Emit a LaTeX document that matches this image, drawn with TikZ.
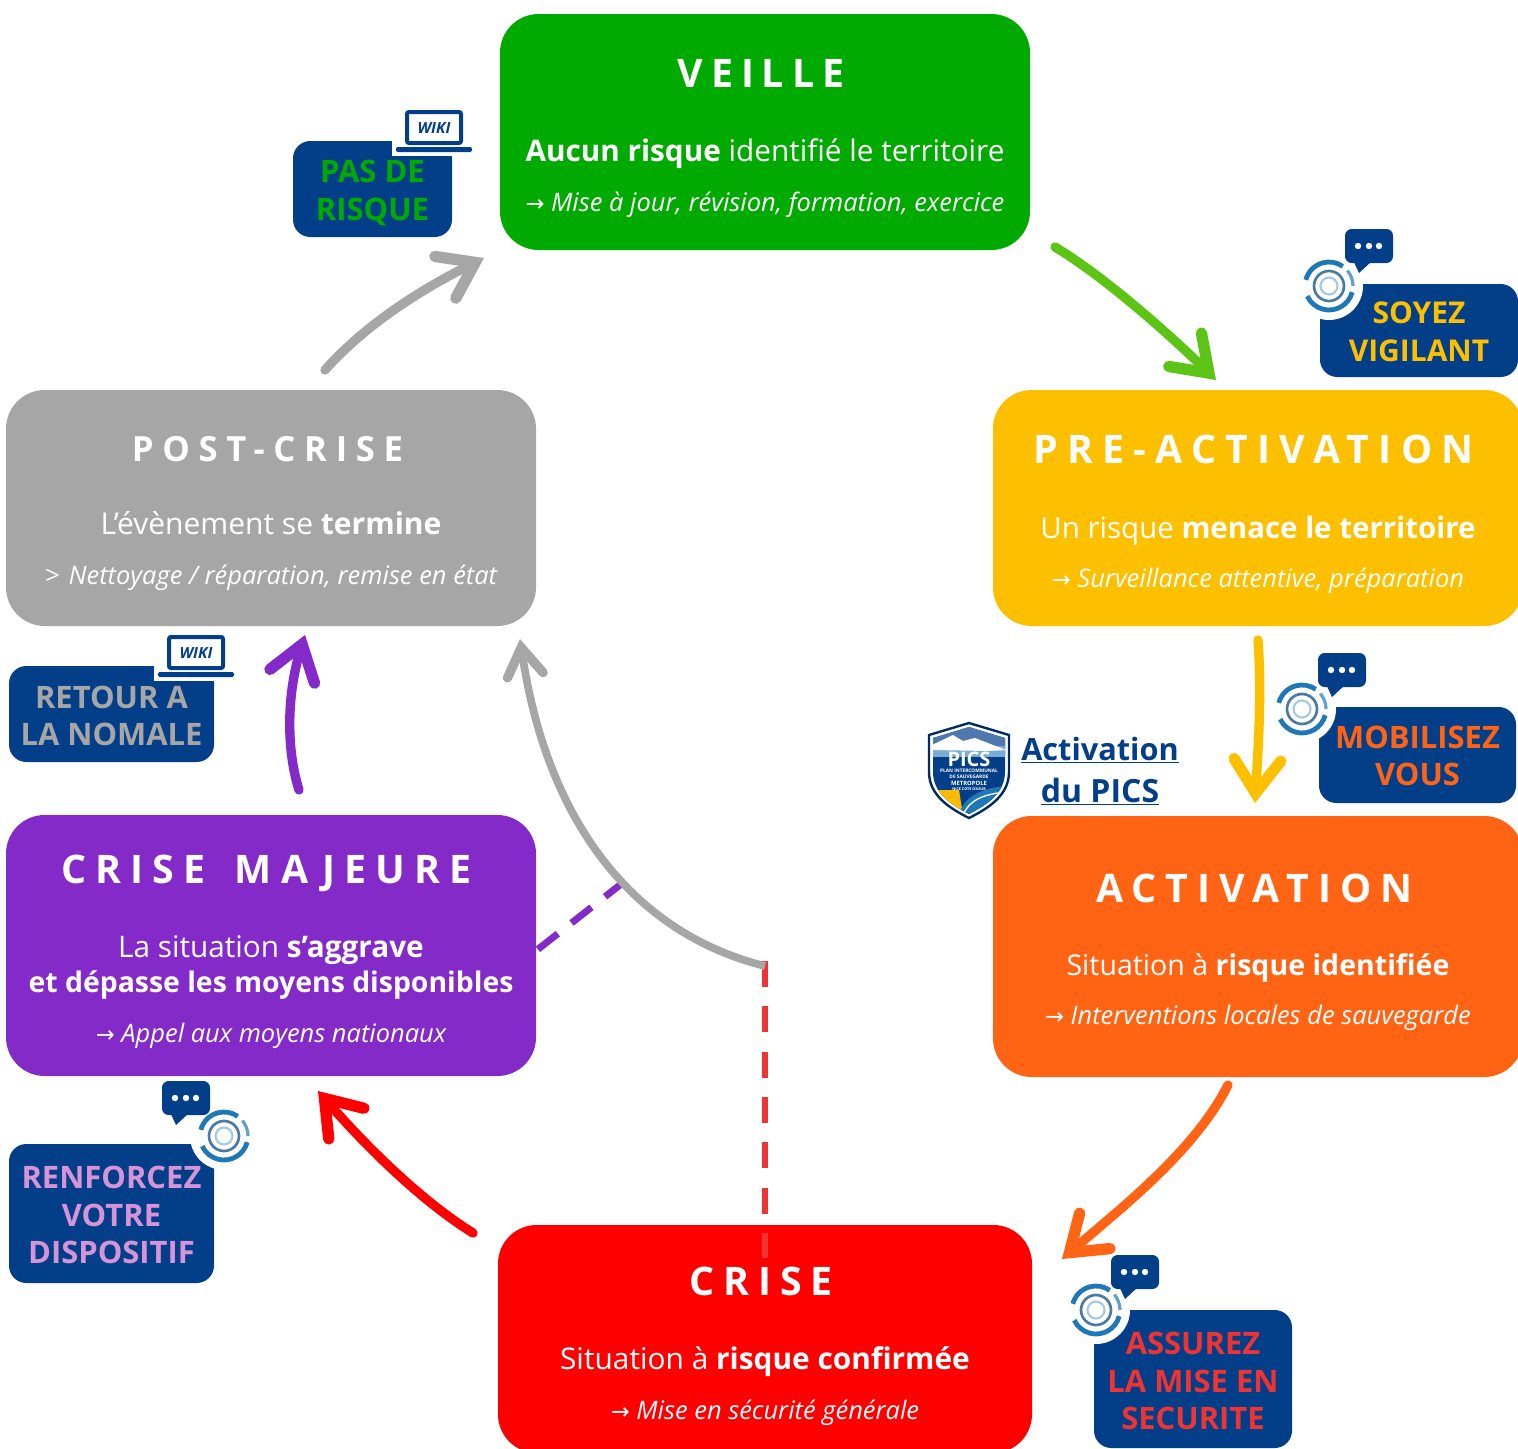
\documentclass[tikz,border=0pt]{standalone}
\usepackage{fontspec}
\usetikzlibrary{arrows.meta}
\setmainfont{Open Sans}
\newfontfamily\arrowfont{DejaVu Sans}
\newcommand{\darr}{{\arrowfont\fontsize{17}{17}\selectfont →}}
\definecolor{navy}{HTML}{033F88}
\definecolor{cgreen}{HTML}{00AA00}
\definecolor{cgrey}{HTML}{A6A6A6}
\definecolor{cyellow}{HTML}{FCC000}
\definecolor{corange}{HTML}{FF6414}
\definecolor{cpurple}{HTML}{832AC8}
\definecolor{cred}{HTML}{FF0000}
\definecolor{clime}{HTML}{5CC414}
\definecolor{cdash}{HTML}{EE3333}
\definecolor{cpink}{HTML}{D793D7}
\definecolor{cswirl}{HTML}{1E78B8}
\tikzset{
  phase/.style={rectangle,rounded corners=29pt,inner sep=0pt,text=white},
  tag/.style={rectangle,rounded corners=13pt,inner sep=0pt,fill=navy},
  tagtext/.style={inner sep=0pt,align=center,font=\bfseries\fontsize{#1}{28.2}\selectfont},
  tagtext/.default=23.2,
  ttl/.style={anchor=base,inner sep=0pt,text=white,font=\bfseries\fontsize{#1}{#1}\selectfont},
  body/.style={anchor=base,inner sep=0pt,text=white,font=\fontsize{#1}{27}\selectfont},
  body/.default=22.3,
  note/.style={anchor=base,inner sep=0pt,text=white,font=\itshape\fontsize{19.1}{22}\selectfont},
  flow/.style={line width=7pt,line cap=round,-{Straight Barb[length=25pt,width=35pt,line width=8.5pt,line cap=round,line join=miter]}},
  thinflow/.style={line width=5.8pt,-{Straight Barb[length=21pt,width=27pt,line width=7pt,line cap=round,line join=miter]}},
  laptop/.pic={
    \fill[white] (-42,-22) rectangle (42,26);
    \draw[navy,line width=3pt,rounded corners=1.5pt,fill=white] (-27,-18) rectangle (27,13);
    \fill[navy,rounded corners=1.5pt] (-38,17) rectangle (38,22);
    \node[inner sep=0pt,text=navy,font=\bfseries\itshape\fontsize{11.5}{11.5}\selectfont] (-wiki) at (0,-2) {WIKI};
  },
  chat/.pic={
    \fill[navy,rounded corners=5pt] (-24,-17) rectangle (24,17);
    \fill[navy] (-16,14) -- (-10,27) -- (3,15) -- cycle;
    \fill[white] (-11,0) circle (3.2) (0,0) circle (3.2) (10,0) circle (3.2);
  },
  swirl/.pic={
    \fill[white] (0,0) circle (34);
    \draw[cswirl,line width=3.6pt] (0,0) ++(195:24) arc[start angle=195,end angle=305,radius=24];
    \draw[cswirl,line width=3.6pt] (0,0) ++(15:24) arc[start angle=15,end angle=155,radius=24];
    \draw[cswirl!70,line width=2.4pt] (0,0) ++(320:24) arc[start angle=320,end angle=360,radius=24];
    \draw[cswirl!55!gray,line width=2pt] (0,0) circle (15);
    \draw[cswirl!40,line width=1.6pt] (0,0) circle (8.5);
  }
}
\begin{document}
\begin{tikzpicture}[x=0.75pt,y=-0.75pt]
\useasboundingbox (0,0) rectangle (1518,1449);
\fill[white] (0,0) rectangle (1518,1449);

% phase boxes
\node[phase,fill=cgreen,minimum width=397.5pt,minimum height=177pt] (veille) at (765,132) {};
\node[phase,fill=cgrey,minimum width=397.5pt,minimum height=177pt] (post) at (271,508) {};
\node[phase,fill=cyellow,minimum width=397.5pt,minimum height=177pt] (pre) at (1258,508) {};
\node[phase,fill=cpurple,minimum width=397.5pt,minimum height=195.75pt] (maj) at (271,945.5) {};
\node[phase,fill=corange,minimum width=397.5pt,minimum height=195.75pt] (act) at (1258,946.5) {};
\node[phase,fill=cred,minimum width=400.5pt,minimum height=171pt] (crise) at (765,1339) {};

% phase texts
\node[ttl=29.5] (veilleA) at (761,87.5) {\addfontfeature{LetterSpace=20}VEILLE};
\node[body] (veilleB) at (765,161) {\textbf{Aucun risque} identifié le territoire};
\node[note] (veilleC) at (765,211) {\darr\ Mise à jour, révision, formation, exercice};

\node[ttl=26] (postA) at (267.5,461) {\addfontfeature{LetterSpace=25}POST-CRISE};
\node[body=22.5] (postB) at (271,534) {L’évènement se \textbf{termine}};
\node[note] (postC) at (271,584) {>\ \hspace{2pt}Nettoyage / réparation, remise en état};

\node[ttl=29.5] (preA) at (1253.5,463) {\addfontfeature{LetterSpace=23.5}PRE-ACTIVATION};
\node[body=22.1] (preB) at (1258,538) {Un risque \textbf{menace le territoire}};
\node[note] (preC) at (1258,587) {\darr\ Surveillance attentive, préparation};

\node[ttl=29.5] (majA) at (266.5,883) {\addfontfeature{LetterSpace=23}CRISE\hspace{7.5pt} MAJEURE};
\node[body] (majB) at (271,957) {La situation \textbf{s’aggrave}};
\node[body=21.3,font=\bfseries\fontsize{21.3}{27}\selectfont] (majB2) at (271,992) {et dépasse les moyens disponibles};
\node[note] (majC) at (271,1042) {\darr\ Appel aux moyens nationaux};

\node[ttl=29.5] (actA) at (1254.5,902) {\addfontfeature{LetterSpace=23}ACTIVATION};
\node[body=21.4] (actB) at (1258,975) {Situation à \textbf{risque identifiée}};
\node[note] (actC) at (1258,1024) {\darr\ Interventions locales de sauvegarde};

\node[ttl=29.5] (criseA) at (761,1295) {\addfontfeature{LetterSpace=23}CRISE};
\node[body=22.4] (criseB) at (765,1369) {Situation à \textbf{risque confirmée}};
\node[note] (criseC) at (765,1419) {\darr\ Mise en sécurité générale};

% tags
\node[tag,minimum width=119.25pt,minimum height=72pt] (t1) at (372.5,189) {};
\node[tag,minimum width=148.5pt,minimum height=69.75pt] (t2) at (1419,330.5) {};
\node[tag,minimum width=147.75pt,minimum height=72pt] (t3) at (1417.5,755) {};
\node[tag,minimum width=153.75pt,minimum height=72pt] (t4) at (111.5,714) {};
\node[tag,minimum width=153.75pt,minimum height=104.25pt] (t5) at (111.5,1213.5) {};
\node[tag,minimum width=148.5pt,minimum height=103.5pt] (t6) at (1193,1379) {};

% icons
\pic (lap1) at (434,130) {laptop};
\pic (lap2) at (196,655) {laptop};
\pic at (1329,286) {swirl};
\pic at (1369,246) {chat};
\pic at (1302,709) {swirl};
\pic at (1342,670) {chat};
\pic at (1096,1310) {swirl};
\pic at (1135,1272) {chat};
\pic at (224,1136) {swirl};
\begin{scope}[shift={(186,1098)},xscale=-1]
  \pic at (0,0) {chat};
\end{scope}

% tag texts
\node[tagtext,text=cgreen] (t1x) at (372.5,193) {PAS DE\\RISQUE};
\node[tagtext=22.5,text=cyellow] (t2x) at (1419,331.5) {SOYEZ\\VIGILANT};
\node[tagtext,text=corange] (t3x) at (1417.5,756) {MOBILISEZ\\VOUS};
\node[tagtext,text=cgrey] (t4x) at (111.5,716) {RETOUR A\\LA NOMALE};
\node[tagtext,text=cpink] (t5x) at (111.5,1215) {RENFORCEZ\\VOTRE\\DISPOSITIF};
\node[tagtext,text=cdash] (t6x) at (1193,1381) {ASSUREZ\\LA MISE EN\\SECURITE};

% PICS shield
\begin{scope}[shift={(969,770)}]
  \path[fill=white,draw=navy!70!black,line width=1.8pt] (0,-47) -- (40,-35) -- (40,2) .. controls (40,25) and (20,38) .. (0,48) .. controls (-20,38) and (-40,25) .. (-40,2) -- (-40,-35) -- cycle;
  \begin{scope}
    \clip (0,-43) -- (36,-32) -- (36,2) .. controls (36,23) and (18,35) .. (0,44) .. controls (-18,35) and (-36,23) .. (-36,2) -- (-36,-32) -- cycle;
    \fill[navy] (-41,-48) rectangle (41,48);
    \fill[navy!70] (-41,-48) rectangle (41,-20);
    \fill[cswirl!60] (-41,-24) rectangle (41,-13);
    \fill[white] (-37,-25) -- (-16,-35) -- (-6,-29) -- (6,-32) -- (37,-20) -- (20,-19) -- (-37,-20) -- cycle;
    \fill[cyellow!90!orange] (-37,20) -- (-10,20) -- (-6,45) -- (-37,45) -- cycle;
    \fill[cswirl] (-10,45) .. controls (-5,25) and (15,18) .. (37,16) -- (37,45) -- cycle;
    \draw[white,line width=1pt] (-6,45) .. controls (0,30) and (15,24) .. (37,22);
  \end{scope}
  \node[inner sep=0pt,text=white,font=\bfseries\fontsize{15}{15}\selectfont] (picsA) at (0,-11) {PICS};
  \node[inner sep=0pt,text=white,align=center,font=\bfseries\fontsize{3.6}{4.2}\selectfont] (picsB) at (0,4) {PLAN INTERCOMMUNAL\\DE SAUVEGARDE};
  \node[inner sep=0pt,text=white,font=\bfseries\fontsize{4.4}{5}\selectfont] (picsC) at (0,13) {METROPOLE};
  \node[inner sep=0pt,text=white,font=\bfseries\fontsize{2.8}{3}\selectfont] (picsD) at (0,19) {NICE COTE D'AZUR};
\end{scope}
\node[anchor=base,inner sep=0pt,text=navy,font=\bfseries\fontsize{23}{27}\selectfont] (acti1) at (1100,760) {\underline{Activation}};
\node[anchor=base,inner sep=0pt,text=navy,font=\bfseries\fontsize{24}{27}\selectfont] (acti2) at (1100,802) {\underline{du PICS}};

% connector ends
\coordinate (g0) at (1055,247);
\coordinate (g1) at (1216,380);
\coordinate (y0) at (1258,640);
\coordinate (y1) at (1255,803);
\coordinate (o0) at (1228,1085);
\coordinate (o1) at (1062,1259);
\coordinate (r0) at (473,1233);
\coordinate (r1) at (318,1091);
\coordinate (p0) at (299,790);
\coordinate (p1) at (305,635);
\coordinate (s0) at (325,370);
\coordinate (s1) at (484,258);
\coordinate (j) at (765,966);
\coordinate (j0) at (765,961);
\coordinate (l1) at (520,639);
\coordinate (d0) at (625,881);
\coordinate (d1) at (537,950);
\coordinate (c1) at (765,1258);

% dashed
\draw[cpurple,line width=5.2pt,dash pattern=on 19pt off 13pt] (d0) -- (d1);
\draw[cdash,line width=5.2pt,dash pattern=on 19.5pt off 14.5pt] (j0) -- (c1);

% arrows
\draw[flow,clime] (g0) .. controls (1105,277) and (1170,335) .. (g1);
\draw[flow,cyellow] (y0) .. controls (1262,695) and (1258,750) .. (y1);
\draw[flow,corange] (o0) .. controls (1195,1150) and (1125,1205) .. (o1);
\draw[flow,cred] (r0) .. controls (420,1200) and (365,1145) .. (r1);
\draw[flow,cpurple] (p0) .. controls (285,745) and (288,690) .. (p1);
\draw[flow,cgrey] (s0) .. controls (365,325) and (420,290) .. (s1);
\draw[thinflow,cgrey] (j) .. controls (640,935) and (548,830) .. (l1);
\end{tikzpicture}
\end{document}
